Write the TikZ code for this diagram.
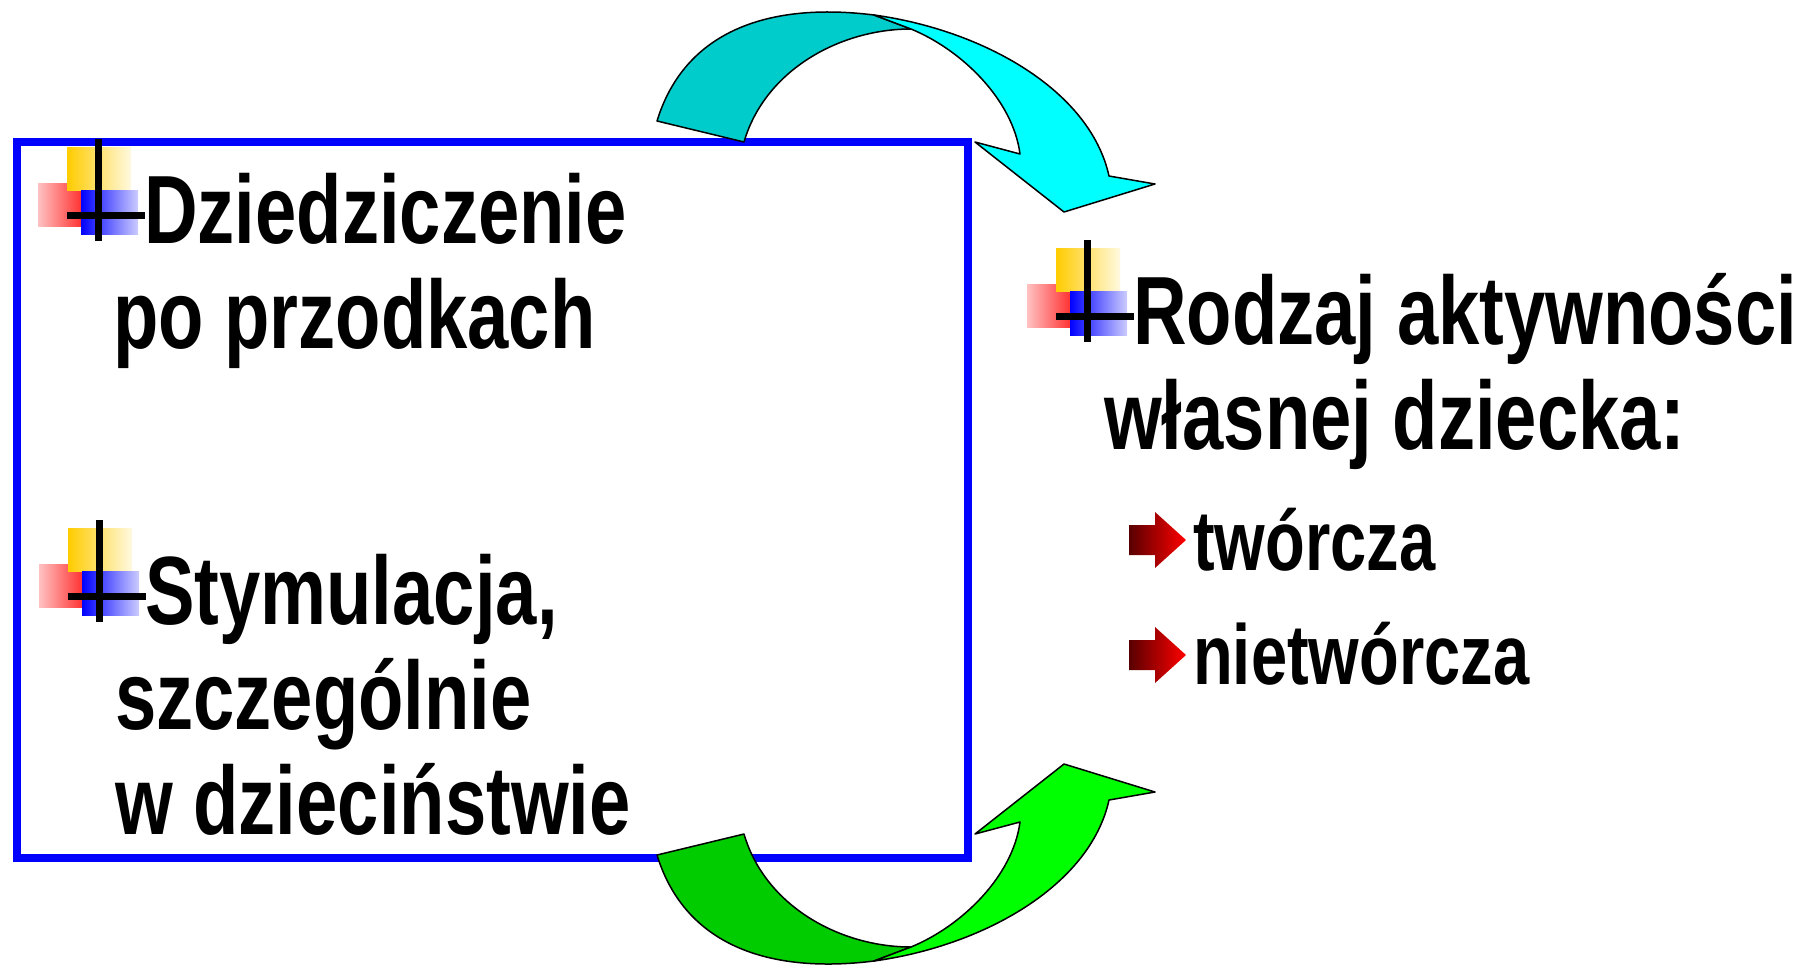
\documentclass[tikz,border=0pt]{standalone}
\usepackage{fontspec}
\setmainfont{Liberation Sans}[FakeStretch=0.765]
\usetikzlibrary{positioning,calc}
\definecolor{bulyel}{RGB}{255,204,0}
\definecolor{bulred}{RGB}{255,51,51}
\definecolor{cyandark}{RGB}{0,204,204}
\definecolor{cyanlight}{RGB}{0,255,255}
\definecolor{greendark}{RGB}{0,204,0}
\definecolor{greenlight}{RGB}{0,255,0}
\newcommand{\bentarrow}[2]{%
  \filldraw[arrline,fill=#1] (657,121) .. controls (685,30) and (770,2) .. (874,15)
    -- (911,29) .. controls (840,29) and (765,70) .. (744,142) -- cycle;
  \filldraw[arrline,fill=#2] (874,15) .. controls (983,30) and (1090,90) .. (1109,176)
    -- (1155,184) -- (1064,212) -- (975,142) -- (1020,154)
    .. controls (1013,100) and (962,50) .. (911,29) -- cycle;
}
\tikzset{
  plusbul/.pic={
    \shade[left color=bulred!30, right color=bulred] (-60,-32) rectangle (-17,11);
    \shade[left color=bulyel, right color=bulyel!12] (-31,-68) rectangle (33,-25);
    \shade[left color=blue, right color=blue!20] (-17,-25) rectangle (40,19);
    \draw[line width=7pt] (0,-76) -- (0,26);
    \draw[line width=7pt] (-31,0) -- (47,0);
  },
  redarr/.pic={
    \shade[left color=red!35!black, middle color=red!85!black, right color=red]
      (-57,-15) -- (-31,-15) -- (-31,-28) -- (0,0) -- (-31,28) -- (-31,15) -- (-57,15) -- cycle;
  }
}

\begin{document}
\begin{tikzpicture}[x=1pt,y=-1pt,
  txt/.style={anchor=base west,inner sep=0pt,font=\fontsize{97pt}{105pt}\selectfont\bfseries},
  subtxt/.style={txt,font=\fontsize{85pt}{95pt}\selectfont\bfseries},
  frame/.style={draw=blue,line width=8pt,minimum width=951pt,minimum height=716pt,inner sep=0pt},
  arrline/.style={draw=black,line width=1.5pt,line join=round}]

  \useasboundingbox (0,0) rectangle (1813,967);

  \node [frame] (box) at (492.5,500) {};

  \node [txt] (dz1) at (144,243) {Dziedziczenie};
  \node [txt,below=105pt of dz1.base west,anchor=base west,xshift=-31pt] (dz2) {po przodkach};
  \node [txt] (st1) at (145,624) {Stymulacja,};
  \node [txt,below=105pt of st1.base west,anchor=base west,xshift=-30pt] (st2) {szczególnie};
  \node [txt,below=105pt of st2.base west,anchor=base west] (st3) {w dzieciństwie};

  \node [txt] (rd1) at (1133,344) {Rodzaj aktywności};
  \node [txt,below=105pt of rd1.base west,anchor=base west,xshift=-29pt] (rd2) {własnej dziecka:};
  \node [subtxt] (tw) at (1193,570) {twórcza};
  \node [subtxt,below=114pt of tw.base west,anchor=base west] (ntw) {nietwórcza};

  \pic at ($(dz1.base west)+(-46,-28)$) {plusbul};
  \pic at ($(st1.base west)+(-46,-28)$) {plusbul};
  \pic at ($(rd1.base west)+(-46,-28)$) {plusbul};
  \pic at ($(tw.base west)+(-7,-30)$) {redarr};
  \pic at ($(ntw.base west)+(-7,-29)$) {redarr};

  \bentarrow{cyandark}{cyanlight}
  \begin{scope}[shift={(0,976)},yscale=-1]
    \bentarrow{greendark}{greenlight}
  \end{scope}

\end{tikzpicture}
\end{document}
